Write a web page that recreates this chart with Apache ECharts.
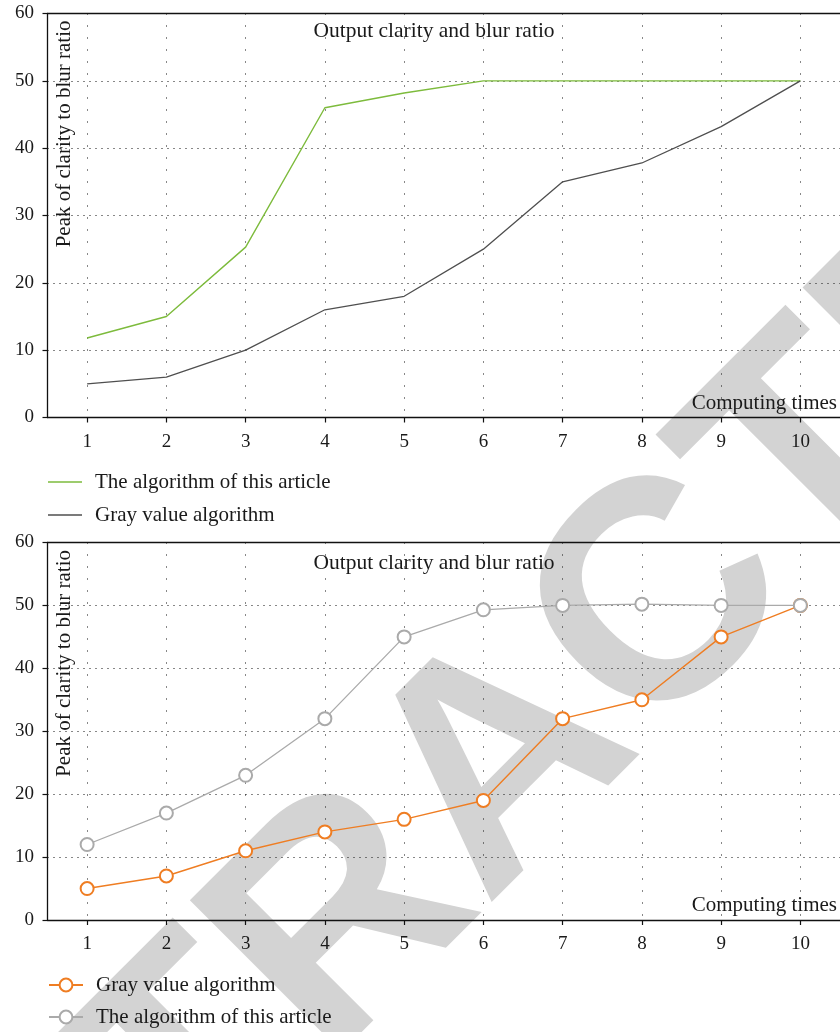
<!DOCTYPE html>
<html>
<head>
<meta charset="utf-8">
<script src="https://cdn.jsdelivr.net/npm/echarts@6/dist/echarts.min.js"></script>
<style>
  html, body { margin: 0; padding: 0; background: #ffffff; }
  #chart { width: 840px; height: 1032px; }
</style>
</head>
<body>
<div id="chart"></div>
<script>
// Computing times along the horizontal axis
const computingTimes = [1, 2, 3, 4, 5, 6, 7, 8, 9, 10];
const yTickValues = [0, 10, 20, 30, 40, 50, 60];

// Upper panel: plain lines
const upperArticle = [11.8, 15, 25.3, 46, 48.2, 50, 50, 50, 50, 50];
const upperGray = [5, 6, 10, 16, 18, 25, 35, 37.8, 43.2, 50];

// Lower panel: lines with hollow circle markers
const lowerGray = [5, 7, 11, 14, 16, 19, 32, 35, 45, 50];
const lowerArticle = [12, 17, 23, 32, 45, 49.3, 50, 50.2, 50, 50];

// Texts
const panelTitle = 'Output clarity and blur ratio';
const yAxisTitle = 'Peak of clarity to blur ratio';
const xAxisTitle = 'Computing times';
const articleLabel = 'The algorithm of this article';
const grayLabel = 'Gray value algorithm';
const stampText = 'RETRACTED';

const SERIF = '"Liberation Serif", "DejaVu Serif", serif';
const TEXT = '#1a1a1a';
const GREEN = '#7dbb3c';
const DARK = '#4f4f4f';
const ORANGE = '#ef7d22';
const LIGHT = '#aaaaaa';

const legendText = {
  upperArticle: articleLabel,
  upperGray: grayLabel,
  lowerGray: grayLabel,
  lowerArticle: articleLabel
};

const pair = (ys) => computingTimes.map((x, i) => [x, ys[i]]);

const panels = [
  { top: 13.5, height: 404 },
  { top: 542.5, height: 377.5 }
];

const grids = panels.map(p => ({ left: 47.5, top: p.top, width: 797, height: p.height }));

const xAxes = [];
const yAxes = [];
panels.forEach((p, gi) => {
  xAxes.push({
    type: 'value', gridIndex: gi, position: 'bottom',
    min: 0.5, max: 10.5, interval: 0.5,
    axisLine: { show: true, onZero: false, lineStyle: { color: '#111', width: 1.3 } },
    axisTick: { show: true, customValues: computingTimes, length: 5, lineStyle: { color: '#111', width: 1.2 } },
    axisLabel: {
      customValues: computingTimes, margin: 15,
      fontFamily: SERIF, fontSize: 19, color: TEXT,
      formatter: v => String(v)
    },
    splitLine: { show: true, lineStyle: { color: '#111', width: 1, type: [1, 11] } }
  });
  xAxes.push({
    type: 'value', gridIndex: gi, position: 'top',
    min: 0.5, max: 10.5, interval: 0.5,
    axisLine: { show: true, onZero: false, lineStyle: { color: '#111', width: 1.3 } },
    axisTick: { show: false }, axisLabel: { show: false }, splitLine: { show: false }
  });
  yAxes.push({
    type: 'value', gridIndex: gi,
    min: 0, max: 60, interval: 10,
    axisLine: { show: true, onZero: false, lineStyle: { color: '#111', width: 1.3 } },
    axisTick: { show: true, length: 5, lineStyle: { color: '#111', width: 1.2 } },
    axisLabel: {
      margin: 13.5, fontFamily: SERIF, fontSize: 19, color: TEXT,
      customValues: yTickValues, padding: [4, 0, 0, 0]
    },
    splitLine: { show: true, lineStyle: { color: '#111', width: 1, type: [1, 5] } }
  });
});

const series = [
  {
    name: 'upperArticle', type: 'line', xAxisIndex: 0, yAxisIndex: 0,
    data: pair(upperArticle), symbol: 'none', color: GREEN,
    lineStyle: { color: GREEN, width: 1.4 }, z: 3
  },
  {
    name: 'upperGray', type: 'line', xAxisIndex: 0, yAxisIndex: 0,
    data: pair(upperGray), symbol: 'none', color: DARK,
    lineStyle: { color: DARK, width: 1.3 }, z: 3
  },
  {
    name: 'lowerGray', type: 'line', xAxisIndex: 2, yAxisIndex: 1,
    data: pair(lowerGray), symbol: 'emptyCircle', symbolSize: 13, color: ORANGE,
    itemStyle: { color: ORANGE, borderWidth: 1.4 },
    lineStyle: { color: ORANGE, width: 1.4 }, z: 3
  },
  {
    name: 'lowerArticle', type: 'line', xAxisIndex: 2, yAxisIndex: 1,
    data: pair(lowerArticle), symbol: 'emptyCircle', symbolSize: 13, color: LIGHT,
    itemStyle: { color: LIGHT, borderWidth: 1.4 },
    lineStyle: { color: LIGHT, width: 1.3 }, z: 4
  }
];

const legendBase = {
  orient: 'vertical', left: 48, itemWidth: 34,
  selectedMode: false, padding: 0,
  formatter: name => legendText[name],
  textStyle: { fontFamily: SERIF, fontSize: 21, color: TEXT, padding: [0, 0, 0, 8] }
};

const legends = [
  // plain line keys
  Object.assign({}, legendBase, {
    top: 471.5, itemGap: 12, icon: 'rect', itemHeight: 1.4,
    data: ['upperArticle', 'upperGray']
  }),
  // line-with-marker keys
  Object.assign({}, legendBase, {
    top: 974.5, itemGap: 11, itemHeight: 16,
    data: ['lowerGray', 'lowerArticle']
  })
];

const textStyle = (extra) => Object.assign({
  fill: TEXT, font: '21px ' + SERIF
}, extra);

const graphics = [
  // diagonal stamp behind the plots
  {
    type: 'text', x: 505, y: 767, rotation: Math.PI / 4, z: -10, silent: true,
    style: {
      text: stampText, fill: '#d3d3d3',
      font: 'bold 312px "Liberation Sans", Arial, sans-serif',
      align: 'center', verticalAlign: 'middle'
    }
  }
];
[{ title: 31, yname: 20.5, xname: 403 }, { title: 563, yname: 550, xname: 905.5 }].forEach(p => {
  graphics.push({
    type: 'text', x: 434, y: p.title, z: 10,
    style: textStyle({ text: panelTitle, align: 'center', verticalAlign: 'middle', font: '21.5px ' + SERIF })
  });
  graphics.push({
    type: 'text', x: 64.5, y: p.yname, rotation: Math.PI / 2, z: 10,
    style: textStyle({ text: yAxisTitle, align: 'right', verticalAlign: 'middle' })
  });
  graphics.push({
    type: 'text', x: 837, y: p.xname, z: 10,
    style: textStyle({ text: xAxisTitle, align: 'right', verticalAlign: 'middle' })
  });
});

const chart = echarts.init(document.getElementById('chart'), null, { renderer: 'canvas' });
chart.setOption({
  animation: false,
  backgroundColor: '#ffffff',
  grid: grids,
  xAxis: xAxes,
  yAxis: yAxes,
  legend: legends,
  series: series,
  graphic: graphics
});
</script>
</body>
</html>
